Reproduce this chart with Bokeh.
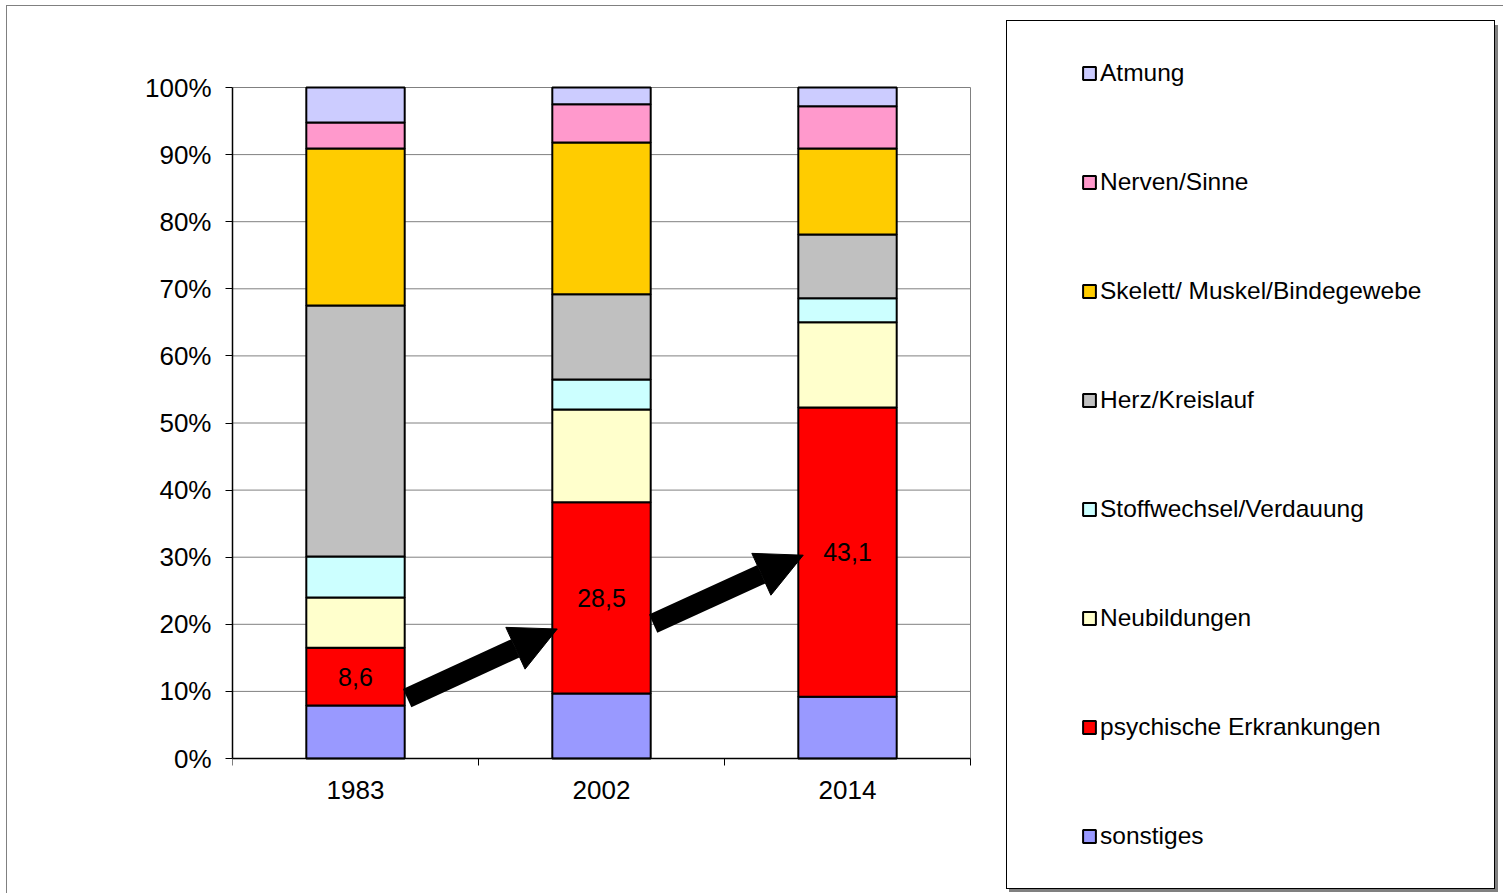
from bokeh.plotting import figure
from bokeh.models import (Range1d, FixedTicker, PrintfTickFormatter, Arrow, NormalHead,
                          ColumnDataSource, InlineStyleSheet, Legend, LegendItem)
from bokeh.core.properties import value
from bokeh.embed import file_html
from bokeh.resources import INLINE

# ---------------- data ----------------
years = ["1983", "2002", "2014"]
categories = ["sonstiges", "psychische Erkrankungen", "Neubildungen",
              "Stoffwechsel/Verdauung", "Herz/Kreislauf",
              "Skelett/ Muskel/Bindegewebe", "Nerven/Sinne", "Atmung"]
sonstiges = [7.9, 9.7, 9.2]
psychische = [8.6, 28.5, 43.1]
neubildungen = [7.5, 13.8, 12.7]
stoffwechsel = [6.1, 4.5, 3.6]
herz = [37.4, 12.7, 9.5]
skelett = [23.4, 22.6, 12.8]
nerven = [3.9, 5.7, 6.3]
atmung = [5.2, 2.5, 2.8]
colors = ["#9999FF", "#FF0000", "#FFFFCC", "#CCFFFF",
          "#C0C0C0", "#FFCC00", "#FF99CC", "#CCCCFF"]
y_ticks = [0, 10, 20, 30, 40, 50, 60, 70, 80, 90, 100]
# arrow annotation anchors (percent levels)
arrow_y_start = [9.0, 20.1]
arrow_y_end = [19.3, 30.3]

FONT = "Liberation Sans"
AXFS = "26px"
LABFS = "25px"
LEGFS = "24.5px"

# ---------------- geometry (pixels) ----------------
W, H = 1503, 893
# plotting area of the bar chart
PL, PR, PT, PB = 232, 970, 87, 758
# full frame (covers chart + legend)
BT, BB, BR = 20, 3, 5
FT_, FB_ = BT, H - BB
FR_ = W - BR
NCAT = len(years)
XPX = (PR - PL) / NCAT          # px per category
YPX = (PB - PT) / 100.0         # px per percent
x_lo, x_hi = 0.0, (FR_ - PL) / XPX
y_lo, y_hi = -(FB_ - PB) / YPX, 100.0 + (PT - FT_) / YPX

series = [sonstiges, psychische, neubildungen, stoffwechsel, herz, skelett, nerven, atmung]
keys = ["s%d" % i for i in range(len(series))]
xs = [i + 0.5 for i in range(NCAT)]
BAR_W = 0.4

data = {"x": xs}
for k, s in zip(keys, series):
    data[k] = s
src = ColumnDataSource(data)

p = figure(width=W, height=H, x_range=Range1d(x_lo, x_hi), y_range=Range1d(y_lo, y_hi),
           output_backend="svg", toolbar_location=None, title=None,
           min_border_left=PL, min_border_right=BR, min_border_top=BT, min_border_bottom=BB)
p.background_fill_color = "white"
p.background_fill_alpha = 0
p.border_fill_color = "white"
p.border_fill_alpha = 0
p.outline_line_color = None
p.xgrid.visible = False
p.ygrid.visible = False

# gridlines and right edge of the plotting area
p.segment(x0=[0] * len(y_ticks), x1=[NCAT] * len(y_ticks), y0=y_ticks, y1=y_ticks,
          line_color="#808080", line_width=1)
p.segment(x0=[NCAT], x1=[NCAT], y0=[0], y1=[100], line_color="#808080", line_width=1)

bars = p.vbar_stack(keys, x="x", width=BAR_W, fill_color=colors, line_color="black",
                    line_width=2, source=src)

# data labels for psychische Erkrankungen
lab_y = [s + v / 2 for s, v in zip(sonstiges, psychische)]
lab_t = [("%.1f" % v).replace(".", ",") for v in psychische]
p.text(x=xs, y=lab_y, text=lab_t, text_align="center", text_baseline="middle",
       text_font=value(FONT), text_font_size=LABFS, text_color="black")

# arrows between bars
asrc = ColumnDataSource(dict(
    x0=[xs[i] + BAR_W / 2 + 0.01 for i in range(2)],
    y0=arrow_y_start,
    x1=[xs[i + 1] - BAR_W / 2 + 0.02 for i in range(2)],
    y1=arrow_y_end))
p.add_layout(Arrow(end=NormalHead(size=46, fill_color="black", line_color="black"),
                   x_start="x0", y_start="y0", x_end="x1", y_end="y1",
                   line_width=20, line_color="black", source=asrc))

# x axis: line at 0 %, boundary ticks; category labels below
xa = p.xaxis[0]
xa.fixed_location = 0
xa.bounds = (0, NCAT)
xa.ticker = FixedTicker(ticks=xs, minor_ticks=list(range(NCAT + 1)))
xa.major_label_overrides = {x: "" for x in xs}
xa.major_label_text_font_size = "0px"
xa.major_label_standoff = 0
xa.major_tick_line_color = None
xa.major_tick_out = 0
xa.major_tick_in = 0
xa.minor_tick_line_color = "black"
xa.minor_tick_out = 7
xa.minor_tick_in = 0
xa.axis_line_color = "black"
xa.axis_line_width = 1.5
p.text(x=xs, y=[0] * NCAT, text=years, y_offset=31, text_align="center",
       text_baseline="middle", text_font=value(FONT), text_font_size=AXFS, text_color="black")

ya = p.yaxis[0]
ya.bounds = (0, 100)
ya.ticker = FixedTicker(ticks=y_ticks)
ya.formatter = PrintfTickFormatter(format="%d%%")
ya.major_tick_out = 7
ya.major_tick_in = 0
ya.major_tick_line_color = "black"
ya.minor_tick_line_color = None
ya.major_label_standoff = 14
ya.major_label_text_font = FONT
ya.major_label_text_font_size = AXFS
ya.major_label_text_color = "black"
ya.axis_line_color = "black"
ya.axis_line_width = 1.5

# ---------------- legend (inside the wide frame) ----------------
items = [LegendItem(label=c, renderers=[r]) for c, r in zip(categories, bars)][::-1]
N = len(items)
PAD, LH, SP, GW = 38, 28, 81, 16
TITLE_EXTRA = 36
BOX_L, BOX_T, BOX_R = 1006, 22, 1495
leg_h = 2 * PAD + N * LH + (N - 1) * SP
label_w = (BOX_R - BOX_L) - 2 * PAD - TITLE_EXTRA - GW - 5
legend = Legend(items=items, location=(BOX_L - PL, FB_ - BOX_T - leg_h),
                padding=PAD, margin=0, spacing=SP, label_height=LH, label_width=label_w,
                glyph_width=GW, glyph_height=GW, label_standoff=3,
                title=" ", title_location="left", title_standoff=TITLE_EXTRA - 1,
                title_text_font_size="1px",
                border_line_color="black", border_line_width=1, border_line_alpha=1,
                background_fill_color="white", background_fill_alpha=1,
                label_text_font=FONT, label_text_font_size=LEGFS, label_text_color="black")
p.add_layout(legend)

css = InlineStyleSheet(css=(
    ":host { position: relative; max-width: 1503px; max-height: 893px; overflow: hidden; } "
    ":host::before { content: ''; position: absolute; box-sizing: border-box; "
    "left: 1009px; top: 25px; width: 489px; height: 867px; "
    "border-right: 3px solid #808080; border-bottom: 3px solid #808080; pointer-events: none; } "
    ":host::after { content: ''; position: absolute; left: 6px; top: 5px; right: 0; bottom: 0; "
    "border-left: 1px solid #808080; border-top: 1px solid #808080; pointer-events: none; }"))
p.stylesheets = [css]

open("out.html", "w").write(file_html(p, INLINE))
